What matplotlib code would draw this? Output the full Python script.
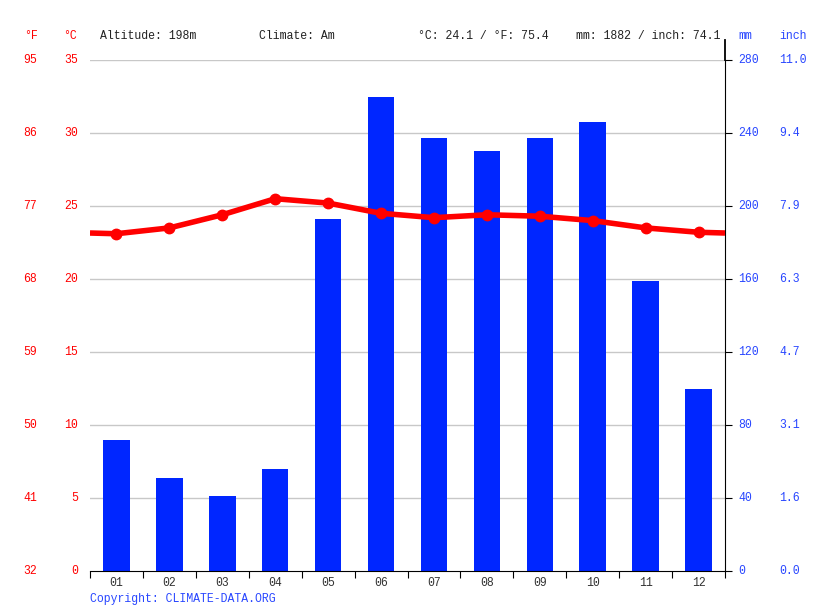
import matplotlib as mpl
mpl.use('Agg')
import matplotlib.pyplot as plt
from matplotlib.transforms import blended_transform_factory

months = ['01', '02', '03', '04', '05', '06', '07', '08', '09', '10', '11', '12']
precip_mm = [72, 51, 41, 56, 193, 260, 237, 230, 237, 246, 159, 100]
temp_c = [23.1, 23.5, 24.4, 25.5, 25.2, 24.5, 24.2, 24.4, 24.3, 24.0, 23.5, 23.2]
c_ticks = [0, 5, 10, 15, 20, 25, 30, 35]
f_labels = ['32', '41', '50', '59', '68', '77', '86', '95']
mm_ticks = [0, 40, 80, 120, 160, 200, 240, 280]
inch_labels = ['0.0', '1.6', '3.1', '4.7', '6.3', '7.9', '9.4', '11.0']

RED = '#ff0000'
BLUE = '#0026ff'
BLUE_TXT = '#2846ff'
FONT = 'Liberation Mono'
FS = 8.3

W, H = 815, 611
fig = plt.figure(figsize=(W / 100, H / 100), dpi=100)
ax = fig.add_axes([90 / W, 1 - 571 / H, 635 / W, 511 / H])
ax2 = ax.twinx()

x = list(range(12))
ax2.bar(x, precip_mm, width=0.5, color=BLUE, zorder=2)
ax2.set_ylim(0, 280)

# wrap the temperature line to the chart edges
edge = (temp_c[0] + temp_c[-1]) / 2
ax.set_zorder(ax2.get_zorder() + 1)
ax.patch.set_visible(False)
ax.plot([-0.5] + x + [11.5], [edge] + temp_c + [edge], color=RED, lw=4, zorder=3,
        solid_capstyle='butt')
ax.plot(x, temp_c, 'o', color=RED, ms=7.5, zorder=4)
ax.set_ylim(0, 35)
ax.set_xlim(-0.5, 11.5)

for v in c_ticks[1:]:
    ax2.axhline(v * 8, color='#c8c8c8', lw=1, zorder=1)

for a in (ax, ax2):
    for s in ('left', 'top'):
        a.spines[s].set_visible(False)
    a.set_yticks([])
ax.spines['right'].set_visible(False)
ax2.spines['bottom'].set_visible(False)
ax2.spines['right'].set_color('black')
ax.spines['bottom'].set_color('black')

# right spine runs a bit above the plot
ax2.plot([1, 1], [1, 1.04], transform=ax2.transAxes, color='black', lw=1.3, clip_on=False)
ax2.set_yticks(mm_ticks)
ax2.set_yticklabels([])
ax2.tick_params(axis='y', direction='out', length=5, color='black', right=True)

ax.set_xticks([i - 0.5 for i in range(13)])
ax.set_xticklabels([])
ax.set_xticks(x, minor=True)
ax.set_xticklabels(months, minor=True, fontfamily=FONT, fontsize=FS, color='#333333')
ax.tick_params(axis='x', which='major', direction='out', length=5, color='black')
ax.tick_params(axis='x', which='minor', length=0, pad=4)

tl = blended_transform_factory(fig.transFigure, ax.transData)
tr = blended_transform_factory(fig.transFigure, ax2.transData)
for c, f in zip(c_ticks, f_labels):
    fig.text(78 / W, c, str(c), transform=tl, ha='right', va='center', color=RED,
             fontfamily=FONT, fontsize=FS)
    fig.text(37 / W, c, f, transform=tl, ha='right', va='center', color=RED,
             fontfamily=FONT, fontsize=FS)
for m, i in zip(mm_ticks, inch_labels):
    fig.text(738 / W, m, str(m), transform=tr, ha='left', va='center', color=BLUE_TXT,
             fontfamily=FONT, fontsize=FS)
    fig.text(779 / W, m, i, transform=tr, ha='left', va='center', color=BLUE_TXT,
             fontfamily=FONT, fontsize=FS)

ty = 1 - 36 / H
head = dict(va='center', fontfamily=FONT, fontsize=FS)
fig.text(24 / W, ty, '°F', color=RED, ha='left', **head)
fig.text(63 / W, ty, '°C', color=RED, ha='left', **head)
fig.text(100 / W, ty, 'Altitude: 198m', color='#222222', ha='left', **head)
fig.text(259 / W, ty, 'Climate: Am', color='#222222', ha='left', **head)
fig.text(418 / W, ty, '°C: 24.1 / °F: 75.4', color='#222222', ha='left', **head)
fig.text(576 / W, ty, 'mm: 1882 / inch: 74.1', color='#222222', ha='left', **head)
fig.text(738 / W, ty, 'mm', color=BLUE_TXT, ha='left', **head)
fig.text(779 / W, ty, 'inch', color=BLUE_TXT, ha='left', **head)
fig.text(90 / W, 1 - 599 / H, 'Copyright: CLIMATE-DATA.ORG', color=BLUE_TXT, ha='left', **head)

fig.savefig('out.png', dpi=100)
